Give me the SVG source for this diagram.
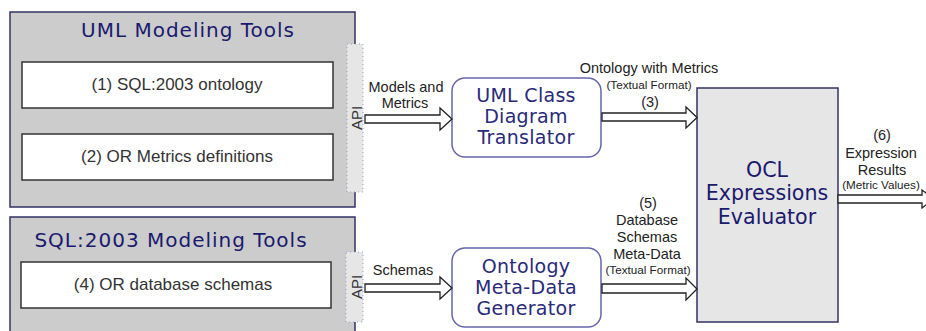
<svg xmlns="http://www.w3.org/2000/svg" width="926" height="331" viewBox="0 0 926 331">
<style>
.tool{fill:#cccccc;stroke:#333366;stroke-width:1.5}
.inner{fill:#ffffff;stroke:#333333;stroke-width:1.5}
.api{fill:#e6e6e6;stroke:#9999cc;stroke-width:1;stroke-dasharray:1,3}
.proc{fill:#ffffff;stroke:#6666aa;stroke-width:1.5}
.ocl{fill:#e6e6e6;stroke:#333366;stroke-width:1.5}
.title{font-family:"DejaVu Sans",Verdana,sans-serif;font-size:20px;letter-spacing:1px;fill:#1a1a6e;text-anchor:middle}
.itxt{font-family:"Liberation Sans",Arial,sans-serif;font-size:17px;fill:#333333;text-anchor:middle}
.ptxt{font-family:"DejaVu Sans",Verdana,sans-serif;font-size:19px;letter-spacing:0.3px;fill:#2a2a7a;text-anchor:middle}
.otxt{font-family:"DejaVu Sans",Verdana,sans-serif;font-size:20.6px;fill:#1a1a6e;text-anchor:middle}
.lbl{font-family:"Liberation Sans",Arial,sans-serif;font-size:14.5px;fill:#222222;text-anchor:middle}
.sml{font-family:"Liberation Sans",Arial,sans-serif;font-size:11.7px;fill:#222222;text-anchor:middle}
.apit{font-family:"Liberation Sans",Arial,sans-serif;font-size:15px;fill:#333333;text-anchor:middle}
.arr{fill:#ffffff;stroke:#222222;stroke-width:1.3;stroke-linejoin:miter}
</style>
<g id="uml-tools">
<rect class="tool" x="10" y="12" width="345" height="195"/>
<text class="title" x="188" y="37">UML Modeling Tools</text>
<rect class="inner" x="22" y="62" width="311" height="46"/>
<text class="itxt" x="177" y="90">(1) SQL:2003 ontology</text>
<rect class="inner" x="22" y="134" width="311" height="46"/>
<text class="itxt" x="177" y="162">(2) OR Metrics definitions</text>
<rect class="api" x="347" y="44" width="16" height="148"/>
<text class="apit" transform="translate(362,118) rotate(-90)">API</text>
</g>
<g id="sql-tools">
<rect class="tool" x="10" y="217" width="345" height="120"/>
<text class="title" x="171" y="247">SQL:2003 Modeling Tools</text>
<rect class="inner" x="21" y="262" width="310" height="46"/>
<text class="itxt" x="173" y="290">(4) OR database schemas</text>
<rect class="api" x="346" y="252" width="17" height="70"/>
<text class="apit" transform="translate(362,287) rotate(-90)">API</text>
</g>
<g id="translator">
<rect class="proc" x="452" y="78" width="149" height="79" rx="13"/>
<text class="ptxt" x="526" y="102">UML Class</text>
<text class="ptxt" x="526" y="123">Diagram</text>
<text class="ptxt" x="526" y="144">Translator</text>
</g>
<g id="generator">
<rect class="proc" x="452" y="248" width="149" height="79" rx="13"/>
<text class="ptxt" x="526" y="273">Ontology</text>
<text class="ptxt" x="526" y="294">Meta-Data</text>
<text class="ptxt" x="526" y="315">Generator</text>
</g>
<g id="evaluator">
<rect class="ocl" x="697" y="88" width="141" height="234"/>
<text class="otxt" x="767" y="177">OCL</text>
<text class="otxt" x="767" y="200">Expressions</text>
<text class="otxt" x="767" y="224">Evaluator</text>
</g>
<g id="connectors">
<polygon class="arr" points="365,115 440,115 440,108 452,119 440,130 440,123 365,123"/>
<polygon class="arr" points="602,113 686,113 686,107 697,117.5 686,128 686,121 602,121"/>
<polygon class="arr" points="365,284 440,284 440,277 452,288 440,299 440,292 365,292"/>
<polygon class="arr" points="602,284 686,284 686,278 697,289 686,300 686,293 602,293"/>
<polygon class="arr" points="838,195 922,195 922,190 934,199 922,208 922,203 838,203"/>
</g>
<g id="labels">
<text class="lbl" x="406" y="92">Models and</text>
<text class="lbl" x="405" y="108">Metrics</text>
<text class="lbl" x="649" y="73">Ontology with Metrics</text>
<text class="sml" x="649" y="89">(Textual Format)</text>
<text class="lbl" x="650" y="107">(3)</text>
<text class="lbl" x="403" y="275">Schemas</text>
<text class="lbl" x="648" y="208">(5)</text>
<text class="lbl" x="647" y="225">Database</text>
<text class="lbl" x="647" y="242">Schemas</text>
<text class="lbl" x="647" y="259">Meta-Data</text>
<text class="sml" x="648" y="274">(Textual Format)</text>
<text class="lbl" x="882" y="140">(6)</text>
<text class="lbl" x="881" y="158">Expression</text>
<text class="lbl" x="882" y="175">Results</text>
<text class="sml" x="881" y="189">(Metric Values)</text>
</g>
</svg>
